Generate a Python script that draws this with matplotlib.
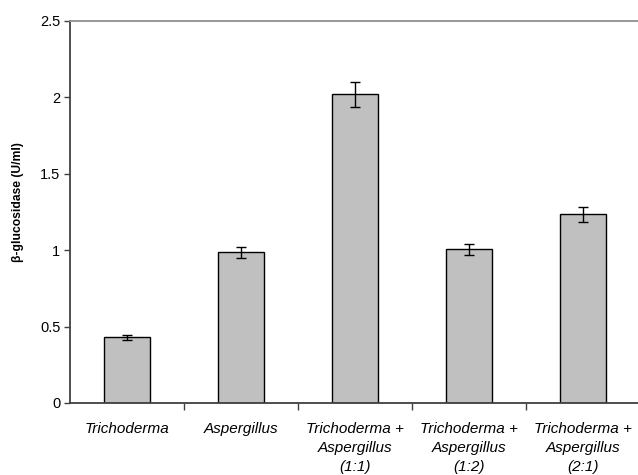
import numpy as np
import matplotlib
matplotlib.use('Agg')
import matplotlib.pyplot as plt

plt.rcParams['font.family'] = ['Liberation Sans', 'DejaVu Sans']

# ---- data
categories = ['Trichoderma', 'Aspergillus',
              'Trichoderma +\nAspergillus\n(1:1)',
              'Trichoderma +\nAspergillus\n(1:2)',
              'Trichoderma +\nAspergillus\n(2:1)']
activity = [0.43, 0.985, 2.02, 1.005, 1.235]
errors   = [0.016, 0.039, 0.08, 0.037, 0.048]
yticks   = [0, 0.5, 1, 1.5, 2, 2.5]
ytick_labels = ['0', '0.5', '1', '1.5', '2', '2.5']

# ---- plot
fig = plt.figure(figsize=(6.38, 4.75), dpi=100)
ax = fig.add_axes([70 / 638, 1 - 403 / 475, 570 / 638, 382 / 475])

x = np.arange(len(categories))
ax.bar(x, activity, width=0.4, color='#C0C0C0', edgecolor='black',
       linewidth=1.0, zorder=2)
ax.errorbar(x, activity, yerr=errors, fmt='none', ecolor='black',
            elinewidth=1.0, capsize=3.6, capthick=1.0, zorder=3)

ax.set_xlim(-0.5, len(categories) - 0.5)
ax.set_ylim(0, 2.5)
ax.set_yticks(yticks)
ax.set_yticklabels(ytick_labels, fontsize=10.5)
ax.set_xticks(x)
ax.set_xticklabels(categories, fontsize=11, style='italic', linespacing=1.42)
ax.set_xticks(np.arange(len(categories)) + 0.5, minor=True)
ax.tick_params(axis='x', which='major', length=0, pad=14)
ax.tick_params(axis='x', which='minor', length=5, width=1, color='#404040')
ax.tick_params(axis='y', length=4, width=1, color='#404040', pad=3)

ax.set_ylabel('β-glucosidase (U/ml)', fontsize=8.7, fontweight='bold')
ax.yaxis.set_label_coords(-0.08, 0.527)

for side in ['left', 'bottom']:
    ax.spines[side].set_color('#404040')
    ax.spines[side].set_linewidth(1.3)
ax.spines['top'].set_color('#909090')
ax.spines['top'].set_linewidth(1.3)
ax.spines['right'].set_visible(False)

fig.savefig('out.png', dpi=100)
